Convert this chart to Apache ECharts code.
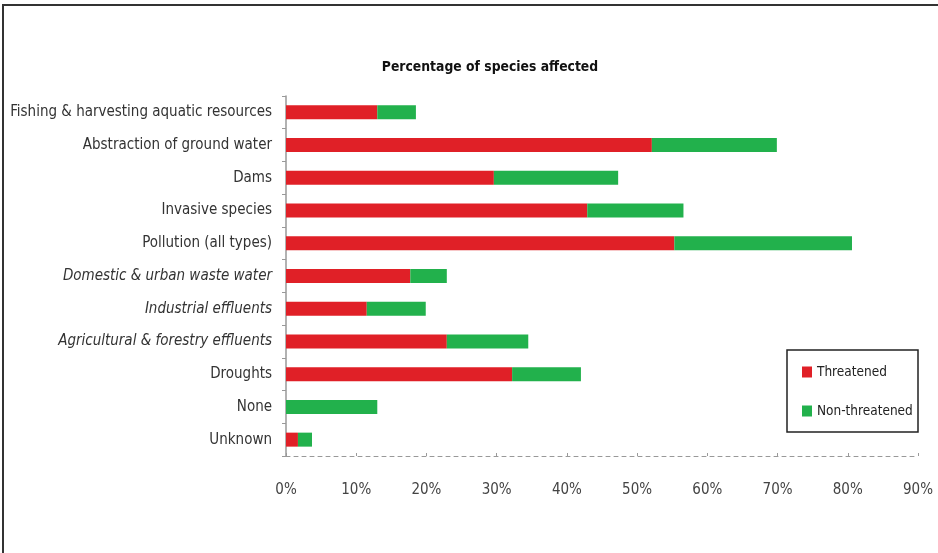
<!DOCTYPE html>
<html>
<head>
<meta charset="utf-8">
<script src="https://cdn.jsdelivr.net/npm/echarts@6/dist/echarts.min.js"></script>
<style>
  html, body { margin: 0; padding: 0; background: #fff; }
  #main { width: 938px; height: 553px; }
</style>
</head>
<body>
<div id="main"></div>
<script>
// categories, top to bottom
var categories = [
    'Fishing & harvesting aquatic resources',
    'Abstraction of ground water',
    'Dams',
    'Invasive species',
    'Pollution (all types)',
    'Domestic & urban waste water',
    'Industrial effluents',
    'Agricultural & forestry effluents',
    'Droughts',
    'None',
    'Unknown'
];
// sub-categories of pollution are in italics
var italicCats = ['Domestic & urban waste water', 'Industrial effluents', 'Agricultural & forestry effluents'];

// percent of species
var threatened = [13.0, 52.1, 29.6, 42.9, 55.3, 17.7, 11.5, 22.9, 32.2, 0, 1.7];
var nonThreatened = [5.5, 17.8, 17.7, 13.7, 25.3, 5.2, 8.4, 11.6, 9.8, 13.0, 2.0];

var myChart = echarts.init(document.getElementById('main'));

var option = {
    animation: false,
    backgroundColor: '#fff',
    title: {
        text: 'Percentage of species affected',
        left: 485,
        textAlign: 'center',
        top: 55,
        textStyle: { fontFamily: 'DejaVu Sans Condensed', fontSize: 13.8, fontWeight: 'bold', color: '#111' }
    },
    graphic: [{
        type: 'rect',
        shape: { x: 3, y: 5, width: 980, height: 600 },
        style: { fill: 'none', stroke: '#333', lineWidth: 2 },
        silent: true
    }, {
        // legend frame
        type: 'rect',
        shape: { x: 787, y: 350, width: 131, height: 82 },
        style: { fill: '#fff', stroke: '#222', lineWidth: 1.5 },
        z: 0
    }],
    legend: {
        orient: 'vertical',
        left: 797,
        top: 360,
        itemGap: 25,
        itemWidth: 10,
        itemHeight: 11,
        icon: 'rect',
        textStyle: { fontFamily: 'DejaVu Sans Condensed', fontSize: 13.5, color: '#222' },
        data: ['Threatened', 'Non-threatened'],
        z: 5
    },
    grid: { left: 286, right: 20, top: 96, bottom: 97, containLabel: false },
    xAxis: {
        type: 'value',
        min: 0,
        max: 90,
        interval: 10,
        axisLine: { show: true, lineStyle: { color: '#999', type: [4, 4], width: 1 } },
        axisTick: { show: true, length: 3, inside: true, lineStyle: { color: '#999' } },
        splitLine: { show: false },
        axisLabel: {
            formatter: '{value}%',
            margin: 27,
            fontFamily: 'DejaVu Sans Condensed',
            fontSize: 15,
            color: '#444'
        }
    },
    yAxis: {
        type: 'category',
        inverse: true,
        data: categories,
        axisLine: { show: true, lineStyle: { color: '#999', width: 1.5 } },
        axisTick: { show: true, length: 4, lineStyle: { color: '#999' } },
        axisLabel: {
            margin: 14,
            fontFamily: 'DejaVu Sans Condensed',
            fontSize: 15,
            color: '#333',
            formatter: function (v) {
                return italicCats.indexOf(v) >= 0 ? '{i|' + v + '}' : v;
            },
            rich: {
                i: { fontStyle: 'italic', fontFamily: 'DejaVu Sans Condensed', fontSize: 15, color: '#333' }
            }
        }
    },
    series: [{
        name: 'Threatened',
        type: 'bar',
        stack: 'all',
        barWidth: 14,
        itemStyle: { color: '#e02027' },
        data: threatened
    }, {
        name: 'Non-threatened',
        type: 'bar',
        stack: 'all',
        barWidth: 14,
        itemStyle: { color: '#22b14c' },
        data: nonThreatened
    }]
};

myChart.setOption(option);
</script>
</body>
</html>
